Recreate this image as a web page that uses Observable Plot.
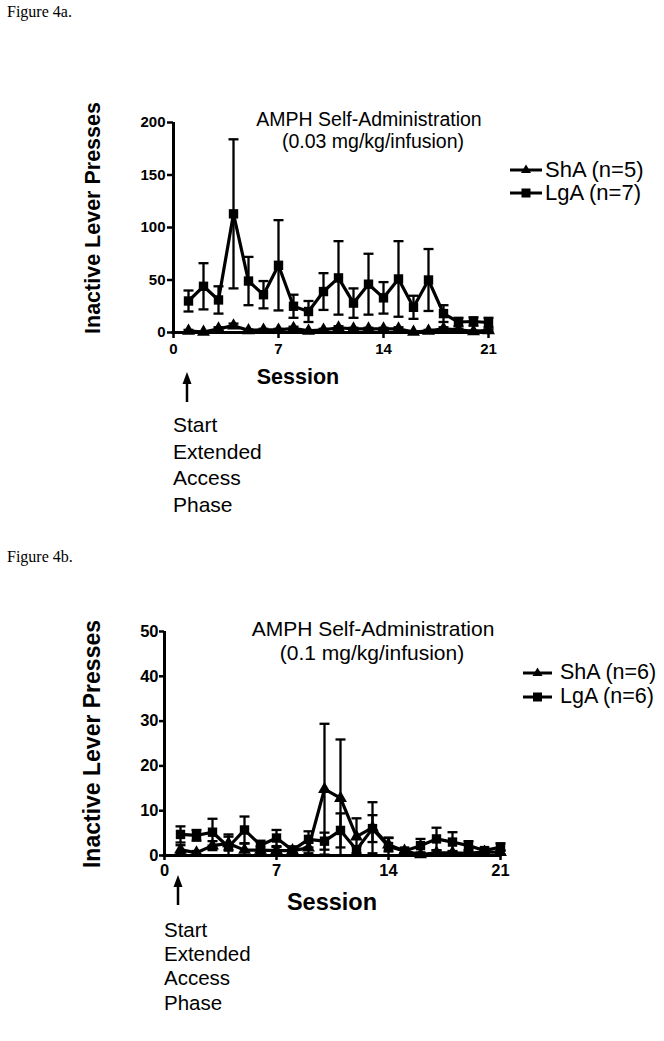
<!DOCTYPE html>
<html><head><meta charset="utf-8">
<script src="https://cdn.jsdelivr.net/npm/d3@7"></script>
<script src="https://cdn.jsdelivr.net/npm/@observablehq/plot@0.6"></script>
<style>
html,body{margin:0;padding:0;background:#fff;}
#page{position:relative;width:664px;height:1041px;overflow:hidden;font-family:Arial,"Liberation Sans",sans-serif;color:#000;}
.t{position:absolute;white-space:nowrap;line-height:1;}
.c{transform:translate(-50%,-50%);}
.l{transform:translate(0,-50%);}
.fig{font-family:"Liberation Serif","Times New Roman",serif;font-size:16px;}
</style></head><body><div id="page"></div>
<script>
// ---- data ----
const sessions = [1,2,3,4,5,6,7,8,9,10,11,12,13,14,15,16,17,18,19,20,21];
const xTicks = [0,7,14,21];

// Figure 4a (0.03 mg/kg/infusion)
const aTicks = [0,50,100,150,200];
const a_ShA_mean = [1.5,0.5,3.5,6.5,2,2.5,2.5,4,1.5,2.5,4.5,3.5,3.5,3.5,3.5,0.5,1.5,3.5,2.5,1,2];
const a_ShA_sem  = [1,0.5,1.5,2,1,1,1,1.5,0.8,1,1.5,1,1,1,1.5,0.5,1,1.5,1,0.8,1];
const a_LgA_mean = [30,44,31,113,49,36,64,25,20,39,52,28,46,33,51,24,50,18,10,10.5,9.5];
const a_LgA_sem  = [10,22,13,71,23,13,43,11,10,17.5,35,14,29,15,36,11,29.5,8,4,4,4.5];

// Figure 4b (0.1 mg/kg/infusion)
const bTicks = [0,10,20,30,40,50];
const b_ShA_mean = [1.3,0.6,2.2,2.7,1.2,1.2,1.1,1.1,1.7,14.8,12.8,4.2,6.2,2.4,1.0,0.2,0.6,0.6,0.5,0.8,0.7];
const b_ShA_sem  = [1.0,0.4,1.0,1.5,1.5,0.8,0.8,0.6,1.2,14.6,13.1,4.1,5.7,1.5,0.5,0.3,0.5,0.4,0.3,0.4,0.4];
const b_LgA_mean = [4.7,4.5,5.2,1.9,5.7,2.3,3.9,1.2,3.6,3.2,5.6,1.3,6.0,2.0,1.0,2.2,3.7,3.0,2.2,1.1,1.9];
const b_LgA_sem  = [1.8,1.2,3.0,2.8,3.0,1.0,1.8,0.8,1.8,1.9,3.8,0.8,3.0,2.0,0.5,1.5,2.5,2.2,1.0,0.5,0.8];

// ---- helpers ----
const page = document.getElementById("page");
function rows(mean, sem){
  return sessions.map((s,i)=>({session:s, mean:mean[i], lo:Math.max(0,mean[i]-sem[i]), hi:mean[i]+sem[i]}));
}
const capSymbol = {draw(ctx,size){const h=Math.sqrt(size/Math.PI);ctx.moveTo(-h,0);ctx.lineTo(h,0);}};

function text(str, x, y, cls, style){
  const d=document.createElement("div");
  d.className="t "+cls; d.textContent=str;
  d.style.left=x+"px"; d.style.top=y+"px";
  Object.assign(d.style, style||{});
  page.appendChild(d); return d;
}
function legendRow(label, symbol, x1, x2, tx, y, fs){
  const ns="http://www.w3.org/2000/svg";
  const s=document.createElementNS(ns,"svg");
  s.setAttribute("width",x2-x1+6); s.setAttribute("height",16);
  s.style.position="absolute"; s.style.left=(x1-3)+"px"; s.style.top=(y-8)+"px";
  const w=x2-x1, cx=w/2+3;
  let inner=`<line x1="3" y1="8" x2="${w+3}" y2="8" stroke="black" stroke-width="3"/>`;
  if(symbol==="square") inner+=`<rect x="${cx-4.5}" y="3.5" width="9" height="9" fill="black"/>`;
  else inner+=`<path d="M${cx},2.5 L${cx+5},11 L${cx-5},11 Z" fill="black"/>`;
  s.innerHTML=inner; page.appendChild(s);
  text(label, tx, y, "l", {fontSize:fs+"px"});
}
function arrow(x, yTip, yEnd){
  const ns="http://www.w3.org/2000/svg";
  const s=document.createElementNS(ns,"svg");
  s.setAttribute("width",20); s.setAttribute("height",yEnd-yTip+2);
  s.style.position="absolute"; s.style.left=(x-10)+"px"; s.style.top=(yTip-1)+"px";
  s.innerHTML=`<line x1="10" y1="8" x2="10" y2="${yEnd-yTip+1}" stroke="black" stroke-width="2.5"/><path d="M10,1 L14.5,13 L5.5,13 Z" fill="black"/>`;
  page.appendChild(s);
}

function panel(cfg){
  const sh=rows(cfg.shMean,cfg.shSem), lg=rows(cfg.lgMean,cfg.lgSem);
  const series=(d,sym,r)=>[
    Plot.ruleX(d,{x:"session",y1:"lo",y2:"hi",stroke:"black",strokeWidth:2.3}),
    Plot.dot(d,{x:"session",y:"hi",symbol:capSymbol,r:5,stroke:"black",fill:"none",strokeWidth:2.3}),
    Plot.dot(d,{x:"session",y:"lo",symbol:capSymbol,r:5,stroke:"black",fill:"none",strokeWidth:2.3}),
    Plot.line(d,{x:"session",y:"mean",stroke:"black",strokeWidth:3.2}),
    Plot.dot(d,{x:"session",y:"mean",symbol:sym,r:r,fill:"black",stroke:"none"})
  ];
  const svg=Plot.plot({
    width:664, height:cfg.h,
    marginLeft:cfg.x0, marginRight:664-cfg.x21,
    marginTop:cfg.yTop-cfg.top, marginBottom:cfg.top+cfg.h-cfg.y0,
    x:{domain:[0,21]}, y:{domain:[0,cfg.yMax]},
    style:{fontFamily:"Arial, 'Liberation Sans', sans-serif",fontWeight:"bold",color:"black",background:"none",overflow:"visible"},
    marks:[
      Plot.axisX({ticks:xTicks,tickSize:cfg.tick,tickPadding:cfg.xpad,strokeWidth:2.5,fontSize:cfg.tf,fontWeight:"bold",label:null}),
      Plot.axisY({ticks:cfg.yTicks,tickSize:cfg.tick,tickPadding:cfg.ypad,strokeWidth:2.5,fontSize:cfg.tf,fontWeight:"bold",label:null}),
      ...series(lg,"square",5.3),
      ...series(sh,"triangle",4.8),
      Plot.ruleX([0],{stroke:"black",strokeWidth:3}),
      Plot.ruleY([0],{stroke:"black",strokeWidth:3,strokeLinecap:"square"})
    ]
  });
  svg.style.position="absolute";
  svg.style.left="0px";
  svg.style.top=cfg.top+"px";
  page.appendChild(svg);
}

// ---- Figure 4a ----
text("Figure 4a.", 7, 12, "l fig");
panel({top:100,h:300,x0:173,x21:488,y0:332,yTop:122,yMax:200,yTicks:aTicks,tick:6,xpad:5,ypad:2,tf:15,
  shMean:a_ShA_mean,shSem:a_ShA_sem,lgMean:a_LgA_mean,lgSem:a_LgA_sem});
text("AMPH Self-Administration", 369, 120, "c", {fontSize:"19.5px"});
text("(0.03 mg/kg/infusion)", 373, 142, "c", {fontSize:"19.5px"});
legendRow("ShA (n=5)","triangle",510,542,545,170,22);
legendRow("LgA (n=7)","square",510,542,545,193,22);
text("Inactive Lever Presses", 94, 218, "", {fontSize:"21.5px",fontWeight:"bold",transform:"translate(-50%,-50%) rotate(-90deg)"});
text("Session", 298, 378, "c", {fontSize:"21.5px",fontWeight:"bold"});
arrow(187, 372, 402);
["Start","Extended","Access","Phase"].forEach((s,i)=>text(s,173,424+i*26.5,"l",{fontSize:"21px"}));

// ---- Figure 4b ----
text("Figure 4b.", 7, 557, "l fig");
panel({top:600,h:300,x0:164,x21:500,y0:855,yTop:631,yMax:50,yTicks:bTicks,tick:5,xpad:4,ypad:1,tf:16.5,
  shMean:b_ShA_mean,shSem:b_ShA_sem,lgMean:b_LgA_mean,lgSem:b_LgA_sem});
text("AMPH Self-Administration", 373, 628, "c", {fontSize:"21px"});
text("(0.1 mg/kg/infusion)", 372, 652, "c", {fontSize:"21px"});
legendRow("ShA (n=6)","triangle",523,552,560,673,21.5);
legendRow("LgA (n=6)","square",523,552,560,697,21.5);
text("Inactive Lever Presses", 92, 744, "", {fontSize:"23px",fontWeight:"bold",transform:"translate(-50%,-50%) rotate(-90deg)"});
text("Session", 332, 903, "c", {fontSize:"23.5px",fontWeight:"bold"});
arrow(178, 875, 905);
["Start","Extended","Access","Phase"].forEach((s,i)=>text(s,164,930+i*24.2,"l",{fontSize:"20.5px"}));
</script></body></html>
